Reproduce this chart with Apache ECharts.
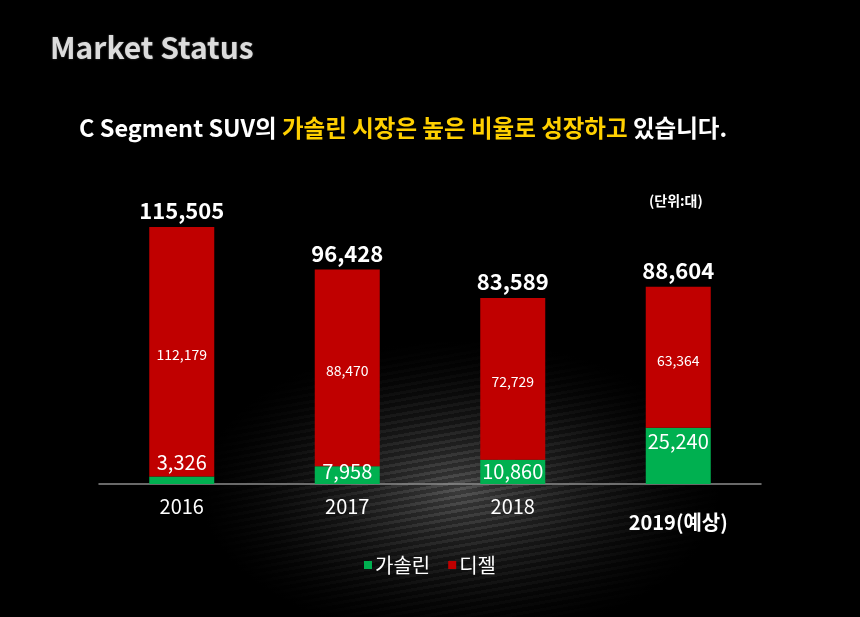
<!DOCTYPE html>
<html><head><meta charset="utf-8">
<script src="https://cdn.jsdelivr.net/npm/echarts@6/dist/echarts.min.js"></script>
<style>
html,body{margin:0;padding:0;background:#000;}
#bg{position:absolute;left:0;top:0;width:860px;height:617px;
background:
 radial-gradient(ellipse 260px 150px at 460px 490px, rgba(0,0,0,0) 0%, rgba(0,0,0,0.55) 60%, #000 100%),
 repeating-linear-gradient(170deg, rgba(255,255,255,0.06) 0px, rgba(255,255,255,0.06) 3px, rgba(0,0,0,0.2) 3px, rgba(0,0,0,0.2) 7px),
 radial-gradient(ellipse 330px 170px at 460px 490px, #4a4a4a 0%, #262626 45%, #000 100%);
}
#c{position:absolute;left:0;top:0;width:860px;height:617px;}
</style></head>
<body><div id="bg"></div><div id="c"></div>
<script>
var categories = ['2016', '2017', '2018', '2019(예상)'];
var gasoline = [3326, 7958, 10860, 25240];
var diesel = [112179, 88470, 72729, 63364];
var totals = [115505, 96428, 83589, 88604];
var seriesNames = ['가솔린', '디젤'];

function fmt(v){ return v.toLocaleString('en-US'); }
var FONT = '"Noto Sans CJK KR","Noto Sans",sans-serif';

var gasLabelPos = ['top', 'insideBottom', 'insideBottom', 'insideTop'];
var gasData = gasoline.map(function(v, i){
  return {value: v, label: {position: gasLabelPos[i], distance: gasLabelPos[i]==='insideBottom'?3:4}};
});

var chart = echarts.init(document.getElementById('c'), null, {renderer:'canvas'});
chart.setOption({
  backgroundColor: 'transparent',
  title: [{
    text: 'Market Status', left: 45, top: 28,
    textStyle: {
      fontFamily: FONT, fontSize: 30, fontWeight: 'bold',
      color: '#dcdcdc',
      textShadowColor: 'rgba(255,255,255,0.3)', textShadowBlur: 2
    }
  },{
    text: '{w|C Segment SUV의 }{y|가솔린 시장은 높은 비율로 성장하고 }{w|있습니다.}',
    left: 74, top: 111,
    textStyle: {
      rich: {
        w: {color:'#ffffff', fontFamily: FONT, fontSize: 23.5, fontWeight:'bold'},
        y: {color:'#ffd000', fontFamily: FONT, fontSize: 23.5, fontWeight:'bold'}
      }
    }
  },{
    text: '(단위:대)', left: 644, top: 189,
    textStyle: {color:'#ffffff', fontFamily: FONT, fontSize: 14, fontWeight:'bold'}
  }],
  legend: {
    bottom: 37, left: 'center', itemWidth: 8, itemHeight: 8, itemGap: 18,
    icon: 'rect',
    data: seriesNames,
    textStyle: {color:'#ffffff', fontFamily: FONT, fontSize: 20, padding:[0,0,0,-2]}
  },
  grid: {left: 99, right: 99, top: 217, bottom: 133},
  xAxis: {
    type: 'category', data: categories,
    axisLine: {lineStyle: {color:'#8c8c8c', width: 1.5}},
    axisTick: {show:false},
    axisLabel: {
      margin: 12,
      formatter: function(v){ return v.indexOf('(')>0 ? '{b|'+v+'}' : '{n|'+v+'}'; },
      rich: {
        n: {color:'#ffffff', fontFamily: FONT, fontSize: 20},
        b: {color:'#ffffff', fontFamily: FONT, fontSize: 20, fontWeight:'bold', padding:[16,0,0,0]}
      }
    }
  },
  yAxis: {type:'value', min: 0, max: 120000, show: false, splitLine:{show:false}},
  series: [{
    name: seriesNames[0], type: 'bar', stack: 'total', barWidth: 65,
    itemStyle: {color:'#00b050'},
    data: gasData,
    label: {show: true, color:'#ffffff', fontFamily: FONT, fontSize: 20, formatter: function(p){return fmt(p.value);}}
  },{
    name: seriesNames[1], type: 'bar', stack: 'total', barWidth: 65,
    itemStyle: {color:'#c00000'},
    data: diesel,
    label: {show: true, position: 'inside', offset:[0,3], color:'#ffffff', fontFamily: FONT, fontSize: 14, formatter: function(p){return fmt(p.value);}}
  },{
    name: 'total', type: 'bar', stack: 'total', barWidth: 65,
    data: totals.map(function(){return 0;}),
    itemStyle: {color:'transparent'},
    label: {show: true, position: 'top', distance: 5, color:'#ffffff', fontFamily: FONT, fontSize: 22, fontWeight:'bold',
      formatter: function(p){return fmt(totals[p.dataIndex]);}},
    tooltip: {show:false}
  }]
});
</script></body></html>
